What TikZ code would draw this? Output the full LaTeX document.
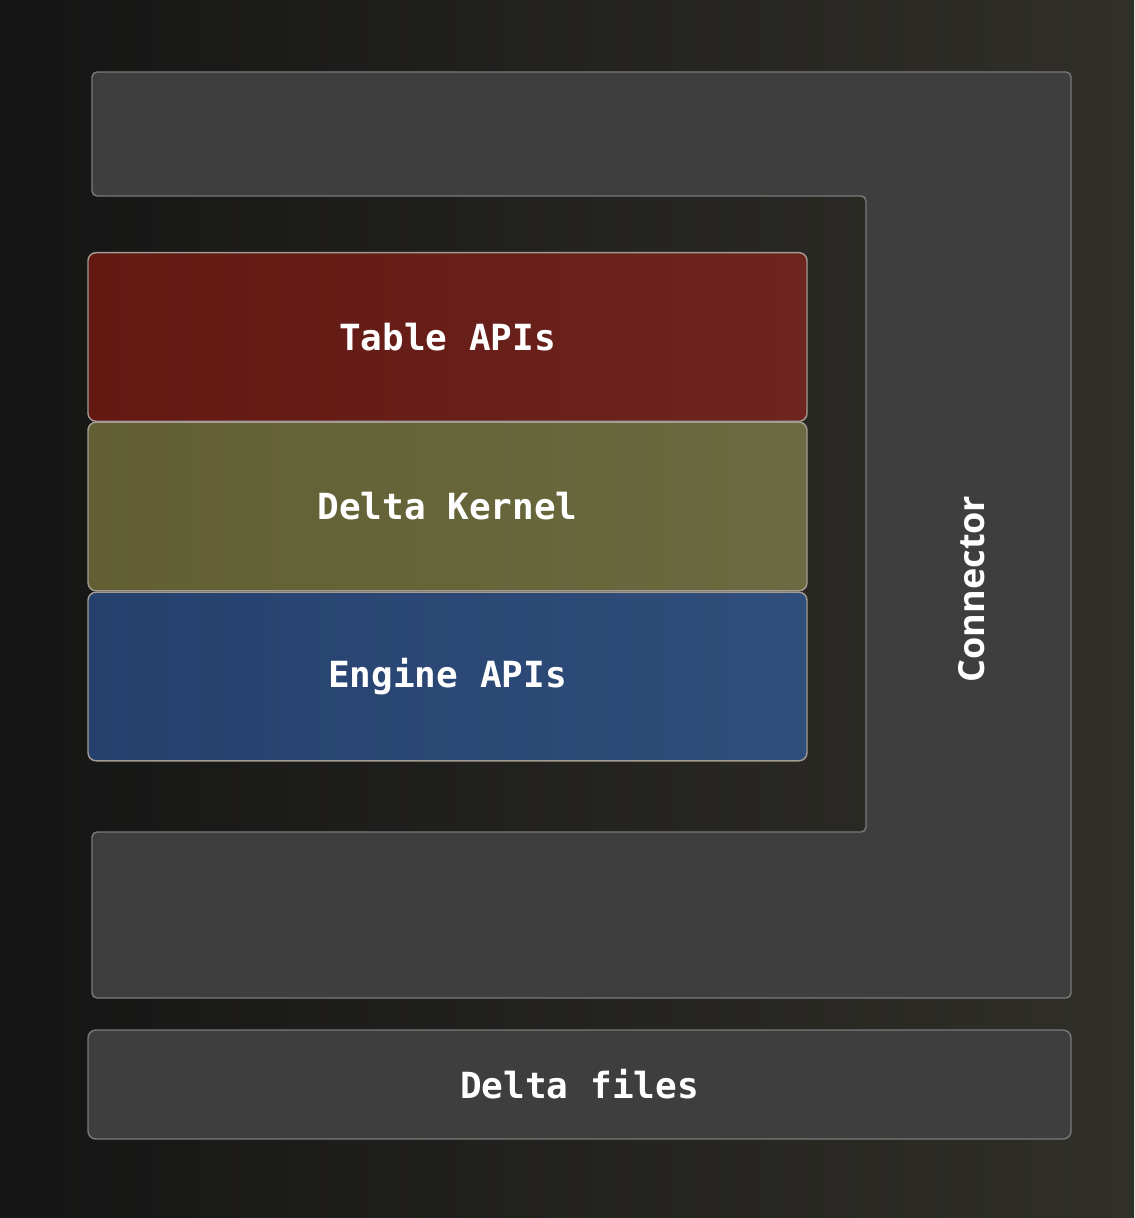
\documentclass[tikz,border=0pt]{standalone}
\usepackage{fontspec}
\setmonofont{DejaVu Sans Mono}
\setsansfont{Open Sans}
\definecolor{bgleft}{HTML}{151515}
\definecolor{bgright}{HTML}{302F29}
\definecolor{connfill}{HTML}{3E3E3E}
\definecolor{connline}{HTML}{7A7A7A}
\definecolor{layerline}{HTML}{A39C92}
\definecolor{tableleft}{HTML}{631812}
\definecolor{tableright}{HTML}{6E251F}
\definecolor{kernelleft}{HTML}{615F33}
\definecolor{kernelright}{HTML}{6B6A40}
\definecolor{engineleft}{HTML}{26406E}
\definecolor{engineright}{HTML}{304E7B}
\begin{document}
\begin{tikzpicture}[x=0.5pt, y=-0.5pt,
    layer/.style={draw=layerline, line width=0.7pt, rounded corners=4pt,
        minimum width=359.5pt, minimum height=84.3pt, inner sep=0pt,
        text=white, font=\ttfamily\bfseries\fontsize{18}{20}\selectfont},
    filebox/.style={layer, draw=connline, fill=connfill,
        minimum width=491.5pt, minimum height=54.5pt}]
    % Background
    \fill[left color=bgleft, right color=bgright] (0,0) rectangle (1134,1218);

    % Connector
    \draw[draw=connline, fill=connfill, line width=0.7pt, rounded corners=2.5pt]
        (92,72) -- (1071,72) -- (1071,998) -- (92,998) -- (92,832)
        -- (866,832) -- (866,196) -- (92,196) -- cycle;
    \node[rotate=90, text=white, font=\sffamily\bfseries\fontsize{18}{20}\selectfont]
        (connector) at (972,589) {Connector};

    % Layers
    \node[layer, left color=tableleft, right color=tableright] (table) at (447.5,337) {Table APIs};
    \node[layer, left color=kernelleft, right color=kernelright] (kernel) at (447.5,506.5) {Delta Kernel};
    \node[layer, left color=engineleft, right color=engineright] (engine) at (447.5,676.5) {Engine APIs};

    % Storage
    \node[filebox] (files) at (579.5,1084.5) {Delta files};
\end{tikzpicture}
\end{document}
